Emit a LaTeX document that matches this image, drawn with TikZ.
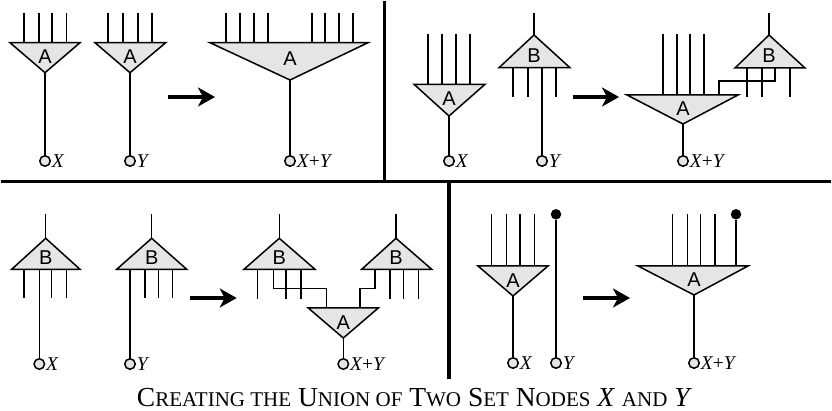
\documentclass[tikz,border=0pt]{standalone}
\usepackage{fontspec}
\setmainfont{Liberation Serif}
\newfontfamily\gatefont{Liberation Sans}
\usepackage{tikz}
\usetikzlibrary{arrows.meta, positioning, calc}

\newcommand\lowcap[1]{{\fontsize{21}{21}\selectfont #1}}

\tikzset{
  gate/.style={draw=black, fill=black!10, line width=1.5pt, line join=miter},
  wire/.style={line width=1.5pt},
  pin/.style={circle, draw=black, fill=black!10, line width=1.5pt, inner sep=0pt, minimum size=10.5pt},
  knob/.style={circle, fill=black, inner sep=0pt, minimum size=10.5pt},
  tag/.style={font=\gatefont\fontsize{20}{20}\selectfont, inner sep=0pt},
  setname/.style={font=\fontsize{19.5}{19.5}\selectfont\itshape, inner sep=0.7pt},
  divider/.style={line width=3.3pt},
  merge/.style={line width=3.5pt, -{Stealth[length=17pt, width=19pt, inset=5pt]}}
}

\begin{document}
\begin{tikzpicture}[x=1pt, y=-1pt]
  \useasboundingbox (0,0) rectangle (832,411);

  % top left: two A nodes
  \foreach \x in {24,39,52,66.5,108,123,138,152} \draw[wire] (\x,12.7) -- (\x,42.7);
  \draw[gate] (10,42.7) -- (80,42.7) -- (45,72.7) -- cycle;
  \draw[gate] (95,42.7) -- (165.7,42.7) -- (130,72.7) -- cycle;
  \coordinate (tlo1) at (45,72.7); \coordinate (tlo2) at (130,72.7);
  \node[tag] (tla1) at (45,57) {A};
  \node[tag] (tla2) at (130,57) {A};
  \node[pin, label={[setname]east:X}] (tlx) at (45,161) {};
  \node[pin, label={[setname]east:Y}] (tly) at (130,161) {};
  \draw[wire] (tlo1) -- (tlx);
  \draw[wire] (tlo2) -- (tly);
  \draw[merge] (168,97) -- (215,97);
  \foreach \x in {226,240,254,268,312,325,339,353} \draw[wire] (\x,12.7) -- (\x,42.7);
  \draw[gate] (210,42.7) -- (368,42.7) -- (290,80) -- cycle;
  \coordinate (tlo3) at (290,80);
  \node[tag] (tla3) at (290,59) {A};
  \node[pin, label={[setname]east:X{\upshape+}Y}] (tlxy) at (290,161) {};
  \draw[wire] (tlo3) -- (tlxy);

  % top right: A node and B node
  \foreach \x in {428,442,456,470} \draw[wire] (\x,34) -- (\x,84.3);
  \draw[gate] (414,84.3) -- (485,84.3) -- (449,116) -- cycle;
  \coordinate (tro1) at (449,116);
  \node[tag] (tra1) at (449,99) {A};
  \node[pin, label={[setname]east:X}] (trx) at (449,161) {};
  \draw[wire] (tro1) -- (trx);
  \foreach \x in {513,528,556} \draw[wire] (\x,67.7) -- (\x,97);
  \draw[wire] (534,12.7) -- (534,35);
  \draw[gate] (499,67.7) -- (570,67.7) -- (534,35) -- cycle;
  \coordinate (trb1o) at (542,67.7);
  \node[tag] (trb1) at (534,56) {B};
  \node[pin, label={[setname]east:Y}] (try) at (542,161) {};
  \draw[wire] (trb1o) -- (try);
  \draw[merge] (573,97) -- (619,97);
  \foreach \x in {663,677,690,704} \draw[wire] (\x,34) -- (\x,95);
  \foreach \x in {747,762,790} \draw[wire] (\x,68) -- (\x,97);
  \draw[wire] (769,13) -- (769,35);
  \coordinate (trb2o) at (775,68); \coordinate (tra2i) at (719,95);
  \draw[wire] (trb2o) -- ++(0,13) -| (tra2i);
  \draw[gate] (627,95) -- (738,95) -- (683,124) -- cycle;
  \draw[gate] (735,68) -- (805,68) -- (769,35) -- cycle;
  \coordinate (tro2) at (683,124);
  \node[tag] (tra2) at (683,109) {A};
  \node[tag] (trb2) at (769,56) {B};
  \node[pin, label={[setname]east:X{\upshape+}Y}] (trxy) at (683,161) {};
  \draw[wire] (tro2) -- (trxy);

  % bottom left: two B nodes
  \foreach \x in {24,51.7,66.7,145,158.3,172.7} \draw[wire] (\x,269.3) -- (\x,298);
  \draw[wire] (45.7,214.3) -- (45.7,238.3);
  \draw[wire] (151.7,214.3) -- (151.7,238.3);
  \draw[gate] (11.7,269.3) -- (80,269.3) -- (45.7,238.3) -- cycle;
  \draw[gate] (116.7,269.3) -- (186.7,269.3) -- (151.7,238.3) -- cycle;
  \coordinate (blo1) at (39.3,269.3); \coordinate (blo2) at (130,269.3);
  \node[tag] (blb1) at (45.7,257.5) {B};
  \node[tag] (blb2) at (151.7,257.5) {B};
  \node[pin, label={[setname]east:X}] (blx) at (39.3,364) {};
  \node[pin, label={[setname]east:Y}] (bly) at (130,364) {};
  \draw[wire] (blo1) -- (blx);
  \draw[wire] (blo2) -- (bly);
  \draw[merge] (190,298) -- (236.7,298);
  \foreach \x in {257.7,286,301,390,403.3,418.3} \draw[wire] (\x,269.3) -- (\x,299);
  \draw[wire] (279.3,214.3) -- (279.3,238.3);
  \draw[wire] (396,214.3) -- (396,238.3);
  \coordinate (blb3o) at (273.3,269.3); \coordinate (bla3i) at (326.7,308);
  \coordinate (blb4o) at (375,269.3); \coordinate (bla4i) at (360,308);
  \draw[wire] (blb3o) -- ++(0,19) -| (bla3i);
  \draw[wire] (blb4o) -- ++(0,19) -| (bla4i);
  \draw[gate] (244,269.3) -- (315,269.3) -- (279.3,238.3) -- cycle;
  \draw[gate] (361.7,269.3) -- (431.7,269.3) -- (396,238.3) -- cycle;
  \draw[gate] (308.3,308) -- (378.3,308) -- (343.3,338) -- cycle;
  \coordinate (blo3) at (343.3,338);
  \node[tag] (blb3) at (279.3,257.5) {B};
  \node[tag] (blb4) at (396,257.5) {B};
  \node[tag] (bla3) at (343.3,322.5) {A};
  \node[pin, label={[setname]east:X{\upshape+}Y}] (blxy) at (343.3,364) {};
  \draw[wire] (blo3) -- (blxy);

  % bottom right: A node and a single element
  \foreach \x in {491.7,506.7,520,534.3} \draw[wire] (\x,214.3) -- (\x,266);
  \draw[gate] (478,266) -- (548,266) -- (513,296) -- cycle;
  \coordinate (bro1) at (513,296);
  \node[tag] (bra1) at (513,280.5) {A};
  \node[pin, label={[setname]east:X}] (brx) at (513,363) {};
  \draw[wire] (bro1) -- (brx);
  \node[knob] (brdot1) at (556,214.3) {};
  \node[pin, label={[setname]east:Y}] (bry) at (556,363) {};
  \draw[wire] (brdot1) -- (bry);
  \draw[merge] (583,298) -- (630,298);
  \foreach \x in {672.7,687.7,700.7,715} \draw[wire] (\x,214.3) -- (\x,266);
  \node[knob] (brdot2) at (736,214.3) {};
  \coordinate (bra2i) at (736,266);
  \draw[wire] (brdot2) -- (bra2i);
  \draw[gate] (638,266) -- (748,266) -- (694,295) -- cycle;
  \coordinate (bro2) at (694,295);
  \node[tag] (bra2) at (694,280) {A};
  \node[pin, label={[setname]east:X{\upshape+}Y}] (brxy) at (694,363) {};
  \draw[wire] (bro2) -- (brxy);

  % panel dividers
  \draw[divider] (384.5,1) -- (384.5,181.5);
  \draw[divider] (1,181.5) -- (831,181.5);
  \draw[divider] (449,181.5) -- (449,379);

  \node[font=\fontsize{27.5}{27.5}\selectfont, anchor=base, inner sep=0pt] (caption) at (414.5,406)
    {C\lowcap{REATING THE} U\lowcap{NION OF} T\lowcap{WO} S\lowcap{ET} N\lowcap{ODES} \textit{X} \lowcap{AND} \textit{Y}};
\end{tikzpicture}
\end{document}
